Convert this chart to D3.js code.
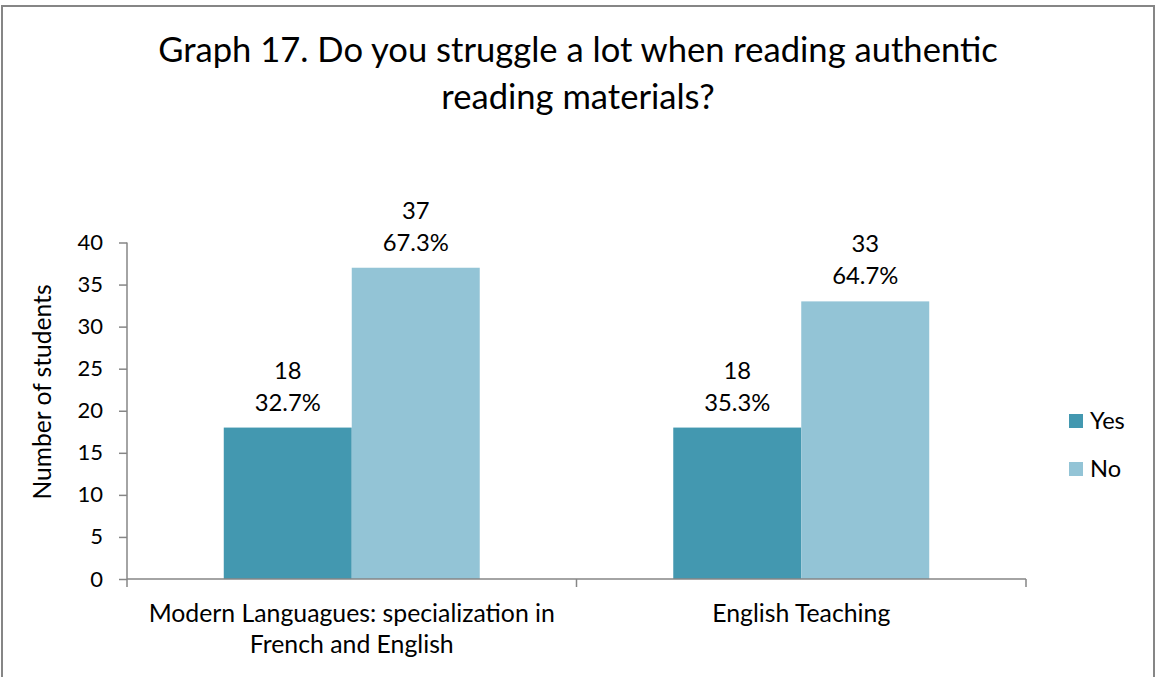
<!DOCTYPE html>
<html><head><meta charset="utf-8">
<script src="https://cdn.jsdelivr.net/npm/d3@7/dist/d3.min.js"></script>
<style>body{margin:0;background:#fff}svg{display:block}text{font-family:Lato,"Open Sans",sans-serif;fill:#000}</style>
</head><body>
<script>
const titleLines = ["Graph 17. Do you struggle a lot when reading authentic", "reading materials?"];
const categories = [["Modern Languagues: specialization in", "French and English"], ["English Teaching"]];
const seriesNames = ["Yes", "No"];
const yesValues = [18, 18];
const noValues = [37, 33];
const yesPercents = ["32.7%", "35.3%"];
const noPercents = ["67.3%", "64.7%"];
const yTicks = [0, 5, 10, 15, 20, 25, 30, 35, 40];
const yTitle = "Number of students";
const colors = ["#4398B0", "#93C4D6"];

const W = 1156, H = 677;
const svg = d3.select("body").append("svg").attr("width", W).attr("height", H);
svg.append("rect").attr("x", 2).attr("y", 6).attr("width", 1152).attr("height", 680)
  .attr("fill", "#fff").attr("stroke", "#868686").attr("stroke-width", 2);

const plot = {l: 127, r: 1026, t: 242.5, b: 579};
const x0 = d3.scaleBand().domain(d3.range(categories.length)).range([plot.l, plot.r]).padding(0);
const x1 = d3.scaleBand().domain(seriesNames).range([0, x0.bandwidth()]).paddingInner(0).paddingOuter(0.756);
const y = d3.scaleLinear().domain([0, 40]).range([plot.b, plot.t]);

// title
svg.append("g").selectAll("text").data(titleLines).join("text")
  .attr("x", 578).attr("y", (d, i) => 62 + i * 47).attr("text-anchor", "middle")
  .style("font-size", "34.6px").text(d => d);

// y axis
const yAxis = svg.append("g").attr("transform", `translate(${plot.l},0)`)
  .call(d3.axisLeft(y).tickValues(yTicks).tickSize(8).tickPadding(16));
yAxis.select(".domain").attr("stroke", "#868686").attr("stroke-width", 1.5).attr("d", `M0,${plot.t}V${plot.b}`);
yAxis.selectAll(".tick line").attr("stroke", "#868686").attr("stroke-width", 1.5);
yAxis.selectAll(".tick text").style("font-size", "22px").attr("fill", "#000").style("font-family", "Lato");

// bars
const series = [yesValues, noValues];
const pcts = [yesPercents, noPercents];
const g = svg.append("g");
seriesNames.forEach((s, si) => {
  g.selectAll(".bar" + si).data(series[si]).join("rect")
    .attr("x", (d, i) => x0(i) + x1(s)).attr("width", x1.bandwidth())
    .attr("y", d => y(d)).attr("height", d => y(0) - y(d)).attr("fill", colors[si]);
  const lab = g.selectAll(".lab" + si).data(series[si]).join("text")
    .attr("text-anchor", "middle").style("font-size", "23.8px");
  lab.append("tspan").attr("x", (d, i) => x0(i) + x1(s) + x1.bandwidth() / 2)
    .attr("y", d => y(d) - 49).text(d => d);
  lab.append("tspan").attr("x", (d, i) => x0(i) + x1(s) + x1.bandwidth() / 2)
    .attr("y", d => y(d) - 17).text((d, i) => pcts[si][i]);
});

// x axis
const xAxis = svg.append("g");
xAxis.append("line").attr("x1", plot.l).attr("x2", plot.r).attr("y1", plot.b).attr("y2", plot.b)
  .attr("stroke", "#868686").attr("stroke-width", 1.5);
const bounds = [plot.l, ...categories.map((c, i) => x0(i) + x0.bandwidth())];
xAxis.selectAll(".xt").data(bounds).join("line")
  .attr("x1", d => d).attr("x2", d => d).attr("y1", plot.b).attr("y2", plot.b + 8)
  .attr("stroke", "#868686").attr("stroke-width", 1.5);
categories.forEach((lines, i) => {
  xAxis.append("text").attr("text-anchor", "middle").style("font-size", "24.8px")
    .selectAll("tspan").data(lines).join("tspan")
    .attr("x", x0(i) + x0.bandwidth() / 2).attr("y", (d, j) => 622 + j * 31).text(d => d);
});

// y title
svg.append("text").attr("transform", `translate(51,392) rotate(-90)`).attr("text-anchor", "middle")
  .style("font-size", "24.6px").text(yTitle);

// legend
const leg = svg.append("g").selectAll("g").data(seriesNames).join("g")
  .attr("transform", (d, i) => `translate(1069,${414 + i * 48})`);
leg.append("rect").attr("width", 14).attr("height", 14).attr("fill", (d, i) => colors[i]);
leg.append("text").attr("x", 21).attr("y", 15).style("font-size", "23.6px").text(d => d);
</script>
</body></html>
